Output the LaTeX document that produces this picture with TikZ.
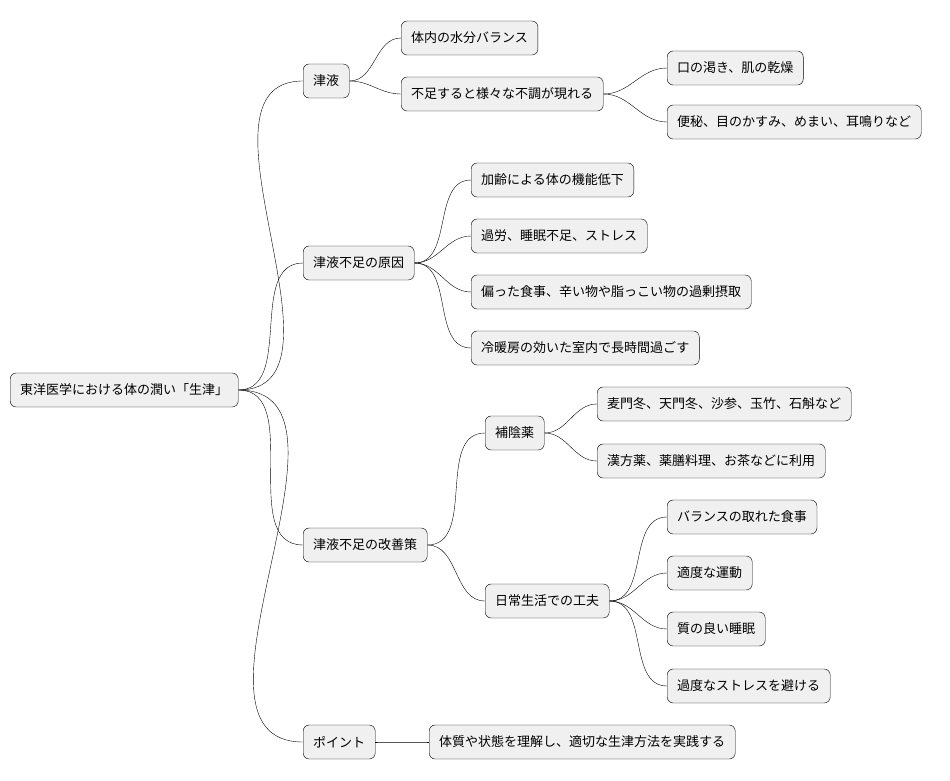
\documentclass[tikz,border=0pt]{standalone}
\usepackage{fontspec}
\setmainfont{Noto Sans CJK JP}
\begin{document}
\begin{tikzpicture}[
	x=1pt, y=-1pt,
	topic/.style={
		rectangle,
		draw=black,
		rounded corners=6pt,
		fill=gray!12,
		anchor=west,
		inner xsep=10pt,
		minimum height=34pt,
		font=\fontsize{13}{15}\selectfont
	},
	branch/.style={
		thin,
		out=0,
		in=180
	},
]
\useasboundingbox (0,0) rectangle (950,781);

\node[topic] (root) at (10, 390) {東洋医学における体の潤い「生津」};

\node[topic] (fluid) at (303, 81) {津液};
\node[topic] (balance) at (401, 38) {体内の水分バランス};
\node[topic] (lack) at (401, 94) {不足すると様々な不調が現れる};
\node[topic] (dry) at (667, 68) {口の渇き、肌の乾燥};
\node[topic] (symptom) at (667, 122) {便秘、目のかすみ、めまい、耳鳴りなど};

\node[topic] (cause) at (303, 263) {津液不足の原因};
\node[topic] (aging) at (471, 180) {加齢による体の機能低下};
\node[topic] (stress) at (471, 236) {過労、睡眠不足、ストレス};
\node[topic] (diet) at (471, 292) {偏った食事、辛い物や脂っこい物の過剰摂取};
\node[topic] (aircon) at (471, 348) {冷暖房の効いた室内で長時間過ごす};

\node[topic] (remedy) at (303, 545) {津液不足の改善策};
\node[topic] (herb) at (485, 433) {補陰薬};
\node[topic] (herbs) at (597, 404) {麦門冬、天門冬、沙参、玉竹、石斛など};
\node[topic] (kampo) at (597, 461) {漢方薬、薬膳料理、お茶などに利用};
\node[topic] (daily) at (485, 601) {日常生活での工夫};
\node[topic] (meal) at (667, 517) {バランスの取れた食事};
\node[topic] (exercise) at (667, 573) {適度な運動};
\node[topic] (sleep) at (667, 629) {質の良い睡眠};
\node[topic] (relax) at (667, 686) {過度なストレスを避ける};

\node[topic] (point) at (303, 742) {ポイント};
\node[topic] (practice) at (429, 742) {体質や状態を理解し、適切な生津方法を実践する};

\foreach \from/\to in {root/fluid, root/cause, root/remedy, root/point,
	fluid/balance, fluid/lack, lack/dry, lack/symptom,
	cause/aging, cause/stress, cause/diet, cause/aircon,
	remedy/herb, remedy/daily, herb/herbs, herb/kampo,
	daily/meal, daily/exercise, daily/sleep, daily/relax,
	point/practice}
	\draw[branch] (\from.east) to (\to.west);

\end{tikzpicture}
\end{document}
